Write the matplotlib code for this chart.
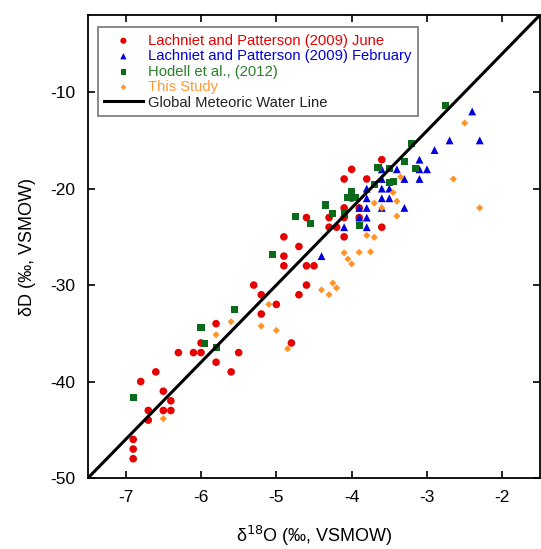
import matplotlib
matplotlib.use("Agg")
import matplotlib.pyplot as plt

plt.rcParams["font.family"] = ["Liberation Sans", "DejaVu Sans"]
plt.rcParams["axes.unicode_minus"] = False

# Lachniet and Patterson (2009) June
june_o = [-4.9, -4.6, -4.5, -5.3, -5.2, -4.6, -4.7, -5.2, -5.0, -5.8, -4.8, -6.0,
          -6.3, -6.1, -6.0, -5.5, -5.8, -5.6, -6.6, -6.8, -6.5, -6.4, -6.7, -6.5,
          -6.4, -6.7, -6.9, -6.9, -6.9, -4.6, -4.9, -4.7, -4.9, -3.6, -4.0, -4.1,
          -3.8, -4.0, -4.1, -3.9, -4.3, -4.1, -3.9, -4.3, -4.2, -3.6, -4.1]
june_d = [-28, -28, -28, -30, -31, -30, -31, -33, -32, -34, -36, -36,
          -37, -37, -37, -37, -38, -39, -39, -40, -41, -42, -43, -43,
          -43, -44, -46, -47, -48, -23, -25, -26, -27, -17, -18, -19,
          -19, -21, -22, -22, -23, -23, -23, -24, -24, -24, -25]

# Lachniet and Patterson (2009) February
feb_o = [-2.4, -2.7, -2.3, -2.9, -3.1, -3.4, -3.1, -3.0, -3.6, -3.3, -3.1, -3.6,
         -3.8, -3.6, -3.5, -3.8, -3.6, -3.5, -3.9, -3.8, -3.6, -3.3, -3.9, -3.8,
         -3.8, -4.1, -4.4]
feb_d = [-12, -15, -15, -16, -17, -18, -18, -18, -18, -19, -19, -19,
         -20, -20, -20, -21, -21, -21, -22, -22, -22, -22, -23, -23,
         -24, -24, -27]

# Hodell et al. (2012)
hodell_o = [-2.75, -3.2, -3.3, -3.15, -3.65, -3.5, -3.7, -3.5, -3.45, -4.0, -4.05, -3.95,
            -4.35, -4.25, -4.1, -4.55, -3.9, -4.75, -5.05, -5.55, -6.0, -5.95, -5.8, -6.9]
hodell_d = [-11.4, -15.3, -17.2, -17.9, -17.8, -17.9, -19.6, -19.4, -19.3, -20.3, -20.9, -20.9,
            -21.7, -22.6, -22.6, -23.6, -23.8, -22.9, -26.8, -32.5, -34.35, -36.1, -36.5, -41.7]

# This study
study_o = [-2.5, -2.65, -2.3, -3.35, -3.45, -3.7, -3.4, -3.6, -3.4, -3.8, -3.7, -4.1,
           -3.9, -3.75, -4.05, -4.0, -4.25, -4.2, -4.4, -4.3, -5.1, -5.6, -5.8, -5.2,
           -5.0, -4.85, -6.5]
study_d = [-13.2, -19.0, -22.0, -18.8, -20.4, -21.5, -21.3, -22.0, -22.85, -24.85, -25.05, -26.65,
           -26.6, -26.55, -27.3, -27.8, -29.8, -30.3, -30.5, -31.0, -32.0, -33.8, -35.15, -34.25,
           -34.7, -36.6, -43.85]

# Global Meteoric Water Line: dD = 8 * d18O + 10
gmwl_slope = 8
gmwl_intercept = 10
gmwl_o = [-7.5, -1.5]
gmwl_d = [gmwl_slope * v + gmwl_intercept for v in gmwl_o]

red = "#e60000"
blue = "#0000dd"
green = "#0b6b1a"
orange = "#ff9326"

fig = plt.figure(figsize=(5.41, 5.49), dpi=100)
ax = fig.add_axes([88 / 541, 71 / 549, 452 / 541, 463 / 549])

ax.scatter(june_o, june_d, s=30, marker="o", color=red, edgecolors="none",
           label="Lachniet and Patterson (2009) June", zorder=2)
ax.scatter(feb_o, feb_d, s=32, marker="^", color=blue, edgecolors="none",
           label="Lachniet and Patterson (2009) February", zorder=2)
ax.scatter(hodell_o, hodell_d, s=26, marker="s", color=green, edgecolors="none",
           label="Hodell et al., (2012)", zorder=2)
ax.scatter(study_o, study_d, s=13, marker="D", color=orange, edgecolors="none",
           label="This Study", zorder=2)
ax.plot(gmwl_o, gmwl_d, color="black", lw=2.2, label="Global Meteoric Water Line", zorder=3)

ax.set_xlim(-7.5, -1.5)
ax.set_ylim(-50, -2)
ax.set_xticks([-7, -6, -5, -4, -3, -2])
ax.set_yticks([-50, -40, -30, -20, -10])
ax.tick_params(direction="in", top=True, right=True, length=5, width=1.2,
               labelsize=12.5, pad=9)
for spine in ax.spines.values():
    spine.set_linewidth(1.3)

ax.set_xlabel("δ$^{18}$O (‰, VSMOW)", fontsize=13, labelpad=13)
ax.set_ylabel("δD (‰, VSMOW)", fontsize=13, labelpad=10)

leg = ax.legend(loc="upper left", fontsize=10.6, markerscale=0.8, handlelength=2.6,
                handletextpad=0.35, labelspacing=0.1, borderpad=0.45,
                fancybox=False, framealpha=1, edgecolor="#777777",
                bbox_to_anchor=(0.005, 0.99))
leg.get_frame().set_linewidth(1.2)
text_colors = [red, blue, "#2a7f2a", "#ff9933", "#222222"]
for txt, c in zip(leg.get_texts(), text_colors):
    txt.set_color(c)

fig.savefig("out.png", dpi=100)
